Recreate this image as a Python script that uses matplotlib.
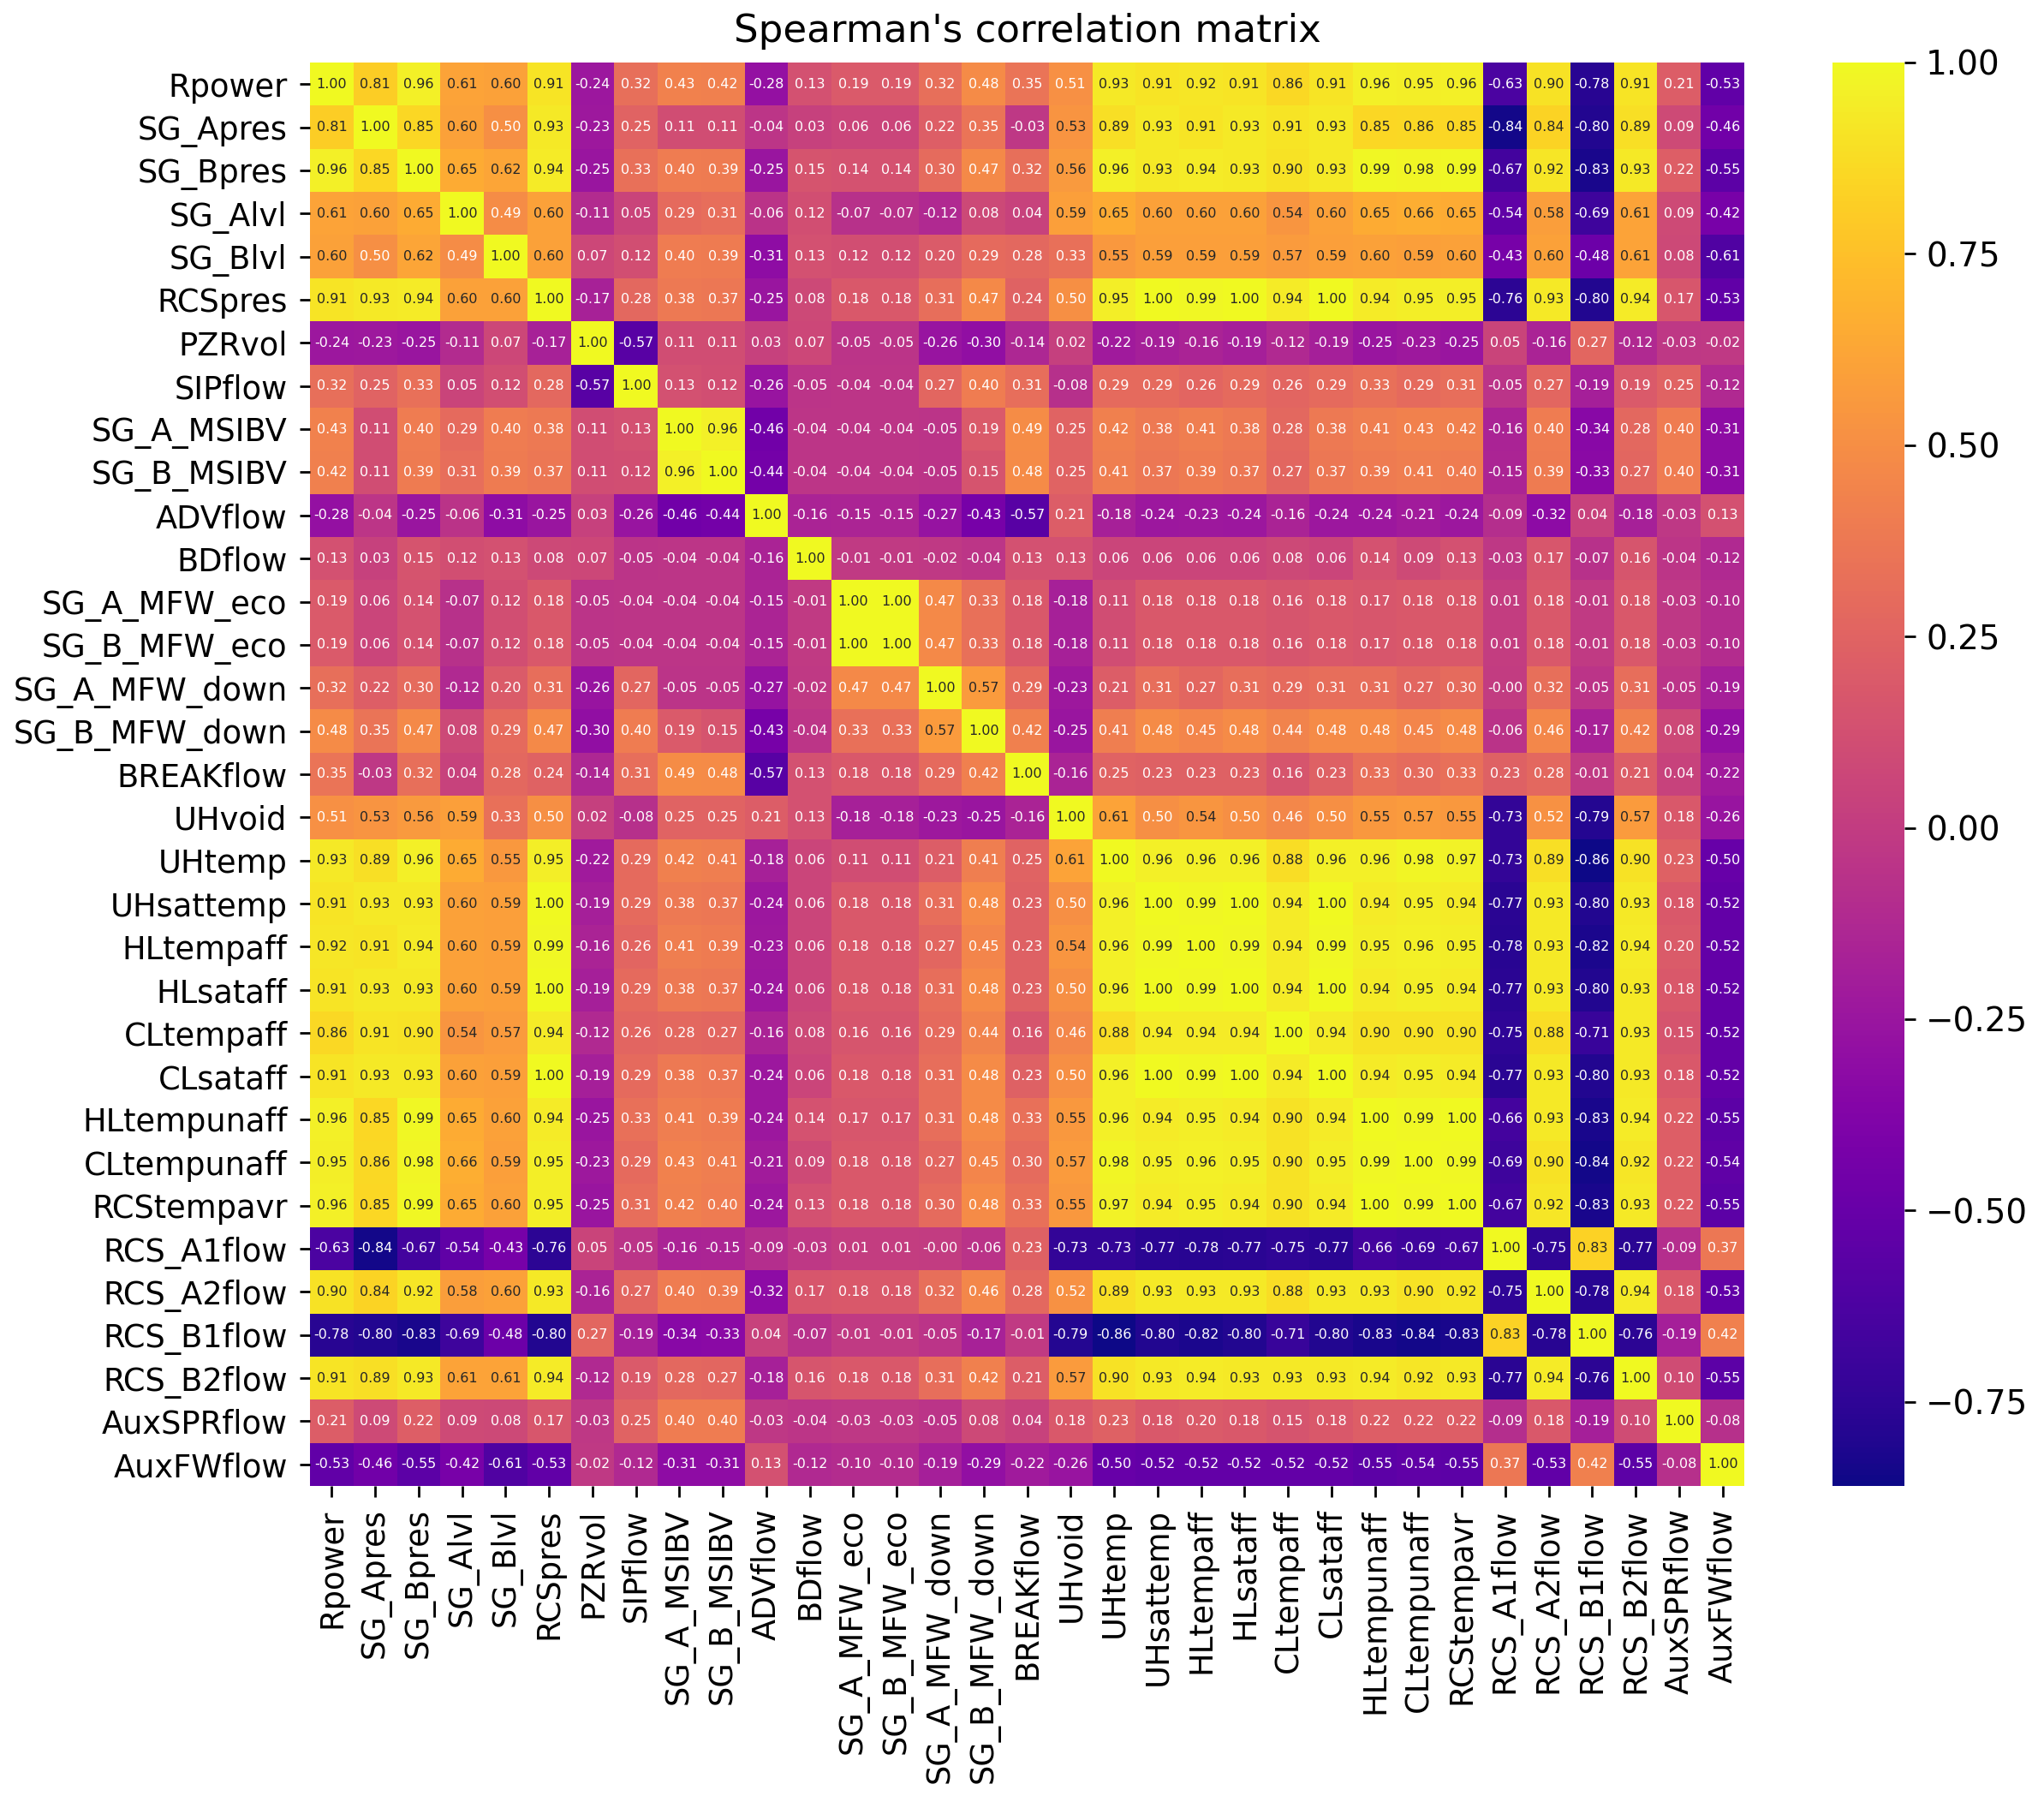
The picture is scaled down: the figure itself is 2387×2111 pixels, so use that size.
import matplotlib
matplotlib.use('Agg')
import matplotlib.pyplot as plt
import numpy as np

labels = ['Rpower', 'SG_Apres', 'SG_Bpres', 'SG_Alvl', 'SG_Blvl', 'RCSpres', 'PZRvol', 'SIPflow',
          'SG_A_MSIBV', 'SG_B_MSIBV', 'ADVflow', 'BDflow', 'SG_A_MFW_eco', 'SG_B_MFW_eco',
          'SG_A_MFW_down', 'SG_B_MFW_down', 'BREAKflow', 'UHvoid', 'UHtemp', 'UHsattemp',
          'HLtempaff', 'HLsataff', 'CLtempaff', 'CLsataff', 'HLtempunaff', 'CLtempunaff',
          'RCStempavr', 'RCS_A1flow', 'RCS_A2flow', 'RCS_B1flow', 'RCS_B2flow', 'AuxSPRflow',
          'AuxFWflow']

corr_rows = [
    [1.00, .81, .96, .61, .60, .91, -.24, .32, .43, .42, -.28, .13, .19, .19, .32, .48, .35, .51, .93, .91, .92, .91, .86, .91, .96, .95, .96, -.63, .90, -.78, .91, .21, -.53],
    [.81, 1.00, .85, .60, .50, .93, -.23, .25, .11, .11, -.04, .03, .06, .06, .22, .35, -.03, .53, .89, .93, .91, .93, .91, .93, .85, .86, .85, -.84, .84, -.80, .89, .09, -.46],
    [.96, .85, 1.00, .65, .62, .94, -.25, .33, .40, .39, -.25, .15, .14, .14, .30, .47, .32, .56, .96, .93, .94, .93, .90, .93, .99, .98, .99, -.67, .92, -.83, .93, .22, -.55],
    [.61, .60, .65, 1.00, .49, .60, -.11, .05, .29, .31, -.06, .12, -.07, -.07, -.12, .08, .04, .59, .65, .60, .60, .60, .54, .60, .65, .66, .65, -.54, .58, -.69, .61, .09, -.42],
    [.60, .50, .62, .49, 1.00, .60, .07, .12, .40, .39, -.31, .13, .12, .12, .20, .29, .28, .33, .55, .59, .59, .59, .57, .59, .60, .59, .60, -.43, .60, -.48, .61, .08, -.61],
    [.91, .93, .94, .60, .60, 1.00, -.17, .28, .38, .37, -.25, .08, .18, .18, .31, .47, .24, .50, .95, 1.00, .99, 1.00, .94, 1.00, .94, .95, .95, -.76, .93, -.80, .94, .17, -.53],
    [-.24, -.23, -.25, -.11, .07, -.17, 1.00, -.57, .11, .11, .03, .07, -.05, -.05, -.26, -.30, -.14, .02, -.22, -.19, -.16, -.19, -.12, -.19, -.25, -.23, -.25, .05, -.16, .27, -.12, -.03, -.02],
    [.32, .25, .33, .05, .12, .28, -.57, 1.00, .13, .12, -.26, -.05, -.04, -.04, .27, .40, .31, -.08, .29, .29, .26, .29, .26, .29, .33, .29, .31, -.05, .27, -.19, .19, .25, -.12],
    [.43, .11, .40, .29, .40, .38, .11, .13, 1.00, .96, -.46, -.04, -.04, -.04, -.05, .19, .49, .25, .42, .38, .41, .38, .28, .38, .41, .43, .42, -.16, .40, -.34, .28, .40, -.31],
    [.42, .11, .39, .31, .39, .37, .11, .12, .96, 1.00, -.44, -.04, -.04, -.04, -.05, .15, .48, .25, .41, .37, .39, .37, .27, .37, .39, .41, .40, -.15, .39, -.33, .27, .40, -.31],
    [-.28, -.04, -.25, -.06, -.31, -.25, .03, -.26, -.46, -.44, 1.00, -.16, -.15, -.15, -.27, -.43, -.57, .21, -.18, -.24, -.23, -.24, -.16, -.24, -.24, -.21, -.24, -.09, -.32, .04, -.18, -.03, .13],
    [.13, .03, .15, .12, .13, .08, .07, -.05, -.04, -.04, -.16, 1.00, -.01, -.01, -.02, -.04, .13, .13, .06, .06, .06, .06, .08, .06, .14, .09, .13, -.03, .17, -.07, .16, -.04, -.12],
    [.19, .06, .14, -.07, .12, .18, -.05, -.04, -.04, -.04, -.15, -.01, 1.00, 1.00, .47, .33, .18, -.18, .11, .18, .18, .18, .16, .18, .17, .18, .18, .01, .18, -.01, .18, -.03, -.10],
    [.19, .06, .14, -.07, .12, .18, -.05, -.04, -.04, -.04, -.15, -.01, 1.00, 1.00, .47, .33, .18, -.18, .11, .18, .18, .18, .16, .18, .17, .18, .18, .01, .18, -.01, .18, -.03, -.10],
    [.32, .22, .30, -.12, .20, .31, -.26, .27, -.05, -.05, -.27, -.02, .47, .47, 1.00, .57, .29, -.23, .21, .31, .27, .31, .29, .31, .31, .27, .30, -0.0, .32, -.05, .31, -.05, -.19],
    [.48, .35, .47, .08, .29, .47, -.30, .40, .19, .15, -.43, -.04, .33, .33, .57, 1.00, .42, -.25, .41, .48, .45, .48, .44, .48, .48, .45, .48, -.06, .46, -.17, .42, .08, -.29],
    [.35, -.03, .32, .04, .28, .24, -.14, .31, .49, .48, -.57, .13, .18, .18, .29, .42, 1.00, -.16, .25, .23, .23, .23, .16, .23, .33, .30, .33, .23, .28, -.01, .21, .04, -.22],
    [.51, .53, .56, .59, .33, .50, .02, -.08, .25, .25, .21, .13, -.18, -.18, -.23, -.25, -.16, 1.00, .61, .50, .54, .50, .46, .50, .55, .57, .55, -.73, .52, -.79, .57, .18, -.26],
    [.93, .89, .96, .65, .55, .95, -.22, .29, .42, .41, -.18, .06, .11, .11, .21, .41, .25, .61, 1.00, .96, .96, .96, .88, .96, .96, .98, .97, -.73, .89, -.86, .90, .23, -.50],
    [.91, .93, .93, .60, .59, 1.00, -.19, .29, .38, .37, -.24, .06, .18, .18, .31, .48, .23, .50, .96, 1.00, .99, 1.00, .94, 1.00, .94, .95, .94, -.77, .93, -.80, .93, .18, -.52],
    [.92, .91, .94, .60, .59, .99, -.16, .26, .41, .39, -.23, .06, .18, .18, .27, .45, .23, .54, .96, .99, 1.00, .99, .94, .99, .95, .96, .95, -.78, .93, -.82, .94, .20, -.52],
    [.91, .93, .93, .60, .59, 1.00, -.19, .29, .38, .37, -.24, .06, .18, .18, .31, .48, .23, .50, .96, 1.00, .99, 1.00, .94, 1.00, .94, .95, .94, -.77, .93, -.80, .93, .18, -.52],
    [.86, .91, .90, .54, .57, .94, -.12, .26, .28, .27, -.16, .08, .16, .16, .29, .44, .16, .46, .88, .94, .94, .94, 1.00, .94, .90, .90, .90, -.75, .88, -.71, .93, .15, -.52],
    [.91, .93, .93, .60, .59, 1.00, -.19, .29, .38, .37, -.24, .06, .18, .18, .31, .48, .23, .50, .96, 1.00, .99, 1.00, .94, 1.00, .94, .95, .94, -.77, .93, -.80, .93, .18, -.52],
    [.96, .85, .99, .65, .60, .94, -.25, .33, .41, .39, -.24, .14, .17, .17, .31, .48, .33, .55, .96, .94, .95, .94, .90, .94, 1.00, .99, 1.00, -.66, .93, -.83, .94, .22, -.55],
    [.95, .86, .98, .66, .59, .95, -.23, .29, .43, .41, -.21, .09, .18, .18, .27, .45, .30, .57, .98, .95, .96, .95, .90, .95, .99, 1.00, .99, -.69, .90, -.84, .92, .22, -.54],
    [.96, .85, .99, .65, .60, .95, -.25, .31, .42, .40, -.24, .13, .18, .18, .30, .48, .33, .55, .97, .94, .95, .94, .90, .94, 1.00, .99, 1.00, -.67, .92, -.83, .93, .22, -.55],
    [-.63, -.84, -.67, -.54, -.43, -.76, .05, -.05, -.16, -.15, -.09, -.03, .01, .01, -0.0, -.06, .23, -.73, -.73, -.77, -.78, -.77, -.75, -.77, -.66, -.69, -.67, 1.00, -.75, .83, -.77, -.09, .37],
    [.90, .84, .92, .58, .60, .93, -.16, .27, .40, .39, -.32, .17, .18, .18, .32, .46, .28, .52, .89, .93, .93, .93, .88, .93, .93, .90, .92, -.75, 1.00, -.78, .94, .18, -.53],
    [-.78, -.80, -.83, -.69, -.48, -.80, .27, -.19, -.34, -.33, .04, -.07, -.01, -.01, -.05, -.17, -.01, -.79, -.86, -.80, -.82, -.80, -.71, -.80, -.83, -.84, -.83, .83, -.78, 1.00, -.76, -.19, .42],
    [.91, .89, .93, .61, .61, .94, -.12, .19, .28, .27, -.18, .16, .18, .18, .31, .42, .21, .57, .90, .93, .94, .93, .93, .93, .94, .92, .93, -.77, .94, -.76, 1.00, .10, -.55],
    [.21, .09, .22, .09, .08, .17, -.03, .25, .40, .40, -.03, -.04, -.03, -.03, -.05, .08, .04, .18, .23, .18, .20, .18, .15, .18, .22, .22, .22, -.09, .18, -.19, .10, 1.00, -.08],
    [-.53, -.46, -.55, -.42, -.61, -.53, -.02, -.12, -.31, -.31, .13, -.12, -.10, -.10, -.19, -.29, -.22, -.26, -.50, -.52, -.52, -.52, -.52, -.52, -.55, -.54, -.55, .37, -.53, .42, -.55, -.08, 1.00],
]
cbar_ticks = [-0.75, -0.50, -0.25, 0.00, 0.25, 0.50, 0.75, 1.00]

W, H = 2387, 2111


def px_axes(fig, left, top, right, bottom):
    return fig.add_axes([left / W, 1 - bottom / H, (right - left) / W, (bottom - top) / H])


def text_color(rgba):
    # same rule seaborn uses for annotations
    rgb = np.array(rgba[:3])
    rgb = np.where(rgb <= .03928, rgb / 12.92, ((rgb + .055) / 1.055) ** 2.4)
    lum = rgb.dot([.2126, .7152, .0722])
    return '.15' if lum > .408 else 'w'


def main():
    corr = np.array(corr_rows)
    n = len(labels)

    fig = plt.figure(figsize=(W / 100, H / 100), dpi=100)
    ax = px_axes(fig, 362, 73, 2037, 1735)
    cax = px_axes(fig, 2140, 73, 2224, 1735)

    mesh = ax.pcolormesh(np.arange(n + 1), np.arange(n + 1), corr, cmap='plasma',
                         vmin=corr.min(), vmax=corr.max())
    ax.set_xlim(0, n)
    ax.set_ylim(n, 0)

    for i in range(n):
        for j in range(n):
            val = corr[i, j]
            ax.text(j + 0.5, i + 0.5, format(val, '.2f'), ha='center', va='center',
                    fontsize=11.5, color=text_color(mesh.cmap(mesh.norm(val))))

    ax.set_xticks(np.arange(n) + 0.5)
    ax.set_yticks(np.arange(n) + 0.5)
    ax.set_xticklabels(labels, rotation=90, fontsize=26.5)
    ax.set_yticklabels(labels, rotation=0, fontsize=26.5)
    ax.tick_params(length=9, width=2, pad=10)
    for s in ax.spines.values():
        s.set_visible(False)
    ax.set_title("Spearman's correlation matrix", fontsize=32.5, pad=17)

    cb = fig.colorbar(mesh, cax=cax)
    cb.outline.set_visible(False)
    cb.set_ticks(cbar_ticks)
    cb.ax.tick_params(labelsize=28, length=9, width=2, pad=9)

    fig.savefig('out.png', dpi=100)


if __name__ == '__main__':
    main()
